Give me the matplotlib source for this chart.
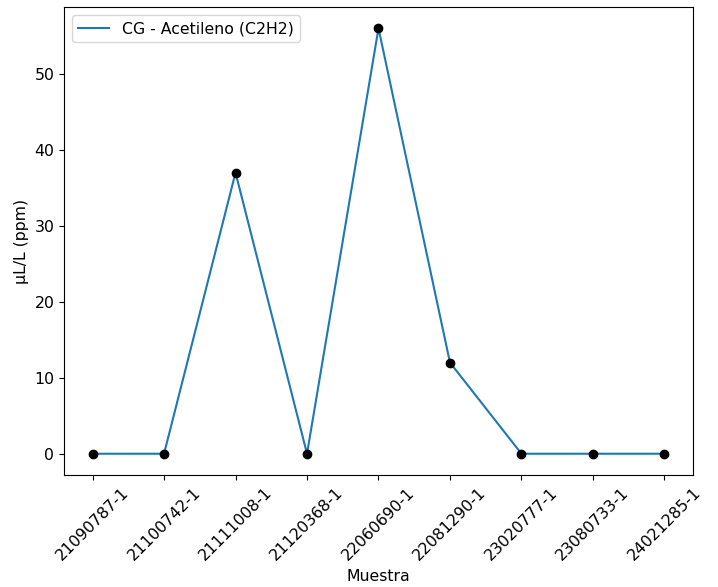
import matplotlib
matplotlib.use('Agg')
import matplotlib.pyplot as plt

muestras = ['21090787-1', '21100742-1', '21111008-1', '21120368-1', '22060690-1',
            '22081290-1', '23020777-1', '23080733-1', '24021285-1']
acetileno = [0, 0, 37, 0, 56, 12, 0, 0, 0]

plt.rcParams['font.size'] = 11.3

fig = plt.figure(figsize=(7.18, 5.87), dpi=100)
ax = fig.add_axes([0.0891, 0.1908, 0.8761, 0.7972])

x = range(len(muestras))
ax.plot(x, acetileno, label='CG - Acetileno (C2H2)')
ax.scatter(x, acetileno, color='black', zorder=3)

ax.set_xticks(list(x))
ax.set_xticklabels(muestras, rotation=45)
ax.set_xlabel('Muestra')
ax.set_ylabel('µL/L (ppm)')
ax.legend(loc='upper left')

fig.savefig('out.png', dpi=100)
